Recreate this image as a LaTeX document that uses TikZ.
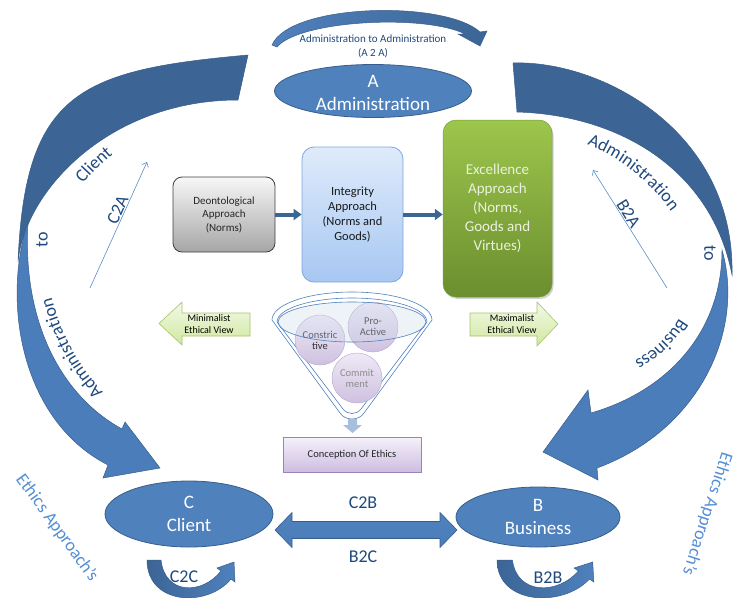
\documentclass[tikz,border=0pt]{standalone}
\usepackage{fontspec}
\setmainfont{Carlito}
\usetikzlibrary{shapes.geometric,arrows.meta,calc,decorations.text,shadows}
\definecolor{blueA}{HTML}{4F81BD}
\definecolor{blueD}{HTML}{3C6595}
\definecolor{blueL}{HTML}{4A7DBA}
\definecolor{blueE}{HTML}{385D8A}
\definecolor{navy}{HTML}{1F497D}
\definecolor{ethblue}{HTML}{558ED5}
\definecolor{thinblue}{HTML}{5B8CC8}
\definecolor{boxarrow}{HTML}{3B6595}
\definecolor{excltext}{HTML}{EBF1DE}
\definecolor{excltop}{HTML}{9DC64C}
\definecolor{exclbot}{HTML}{6B8E2F}
\definecolor{exclborder}{HTML}{7A9E3C}
\definecolor{integtop}{HTML}{DFEBFB}
\definecolor{integbot}{HTML}{A7C7F2}
\definecolor{integborder}{HTML}{7EA6DA}
\definecolor{viewtop}{HTML}{F3F9E7}
\definecolor{viewbot}{HTML}{D0E8A0}
\definecolor{viewborder}{HTML}{A5C46A}
\definecolor{circtop}{HTML}{EFE9F6}
\definecolor{circbot}{HTML}{CEC1E0}
\definecolor{circborder}{HTML}{B6A6CE}
\definecolor{conctop}{HTML}{F6F1FB}
\definecolor{concbot}{HTML}{CDBDE1}
\definecolor{concborder}{HTML}{9A82BA}
\definecolor{smallarr}{HTML}{A7BFDE}
\newcommand\fs[2]{\fontsize{#1}{#2}\selectfont}
\newcommand\arcfont{\fontsize{18}{20}\selectfont}
\begin{document}
\begin{tikzpicture}[x=1pt,y=-1pt,
  bigel/.style={ellipse, draw=blueE, line width=0.8pt, fill=blueA, inner sep=0pt},
  eltext/.style={text=white, font=\fs{19}{23}, align=center, inner sep=0pt},
  lbl/.style={text=navy, font=\fs{18}{20}, inner sep=1pt},
  bigarrowtop/.style={fill=blueD, draw=blueE, line width=0.5pt},
  bigarrowlow/.style={fill=blueL, draw=blueE, line width=0.5pt},
  arcword/.style={decorate, decoration={text along path, text align=center, text color=navy}},
  thinarrow/.style={draw=thinblue, line width=0.6pt, -{Straight Barb[length=4pt,width=7pt]}},
  viewarrow/.style={draw=viewborder, line width=0.6pt, top color=viewtop, bottom color=viewbot},
  viewtext/.style={font=\fs{10}{12.5}, align=center, text=black, inner sep=0pt},
  purplecirc/.style={circle, minimum size=50pt, inner sep=0pt, draw=circborder, top color=circtop, bottom color=circbot, align=center, font=\fs{10.5}{11}},
  funnelline/.style={draw=blueA, line width=0.6pt},
  boxlink/.style={draw=boxarrow, line width=4pt, -{Triangle[length=8pt,width=11pt]}},
  smallcurve/.style={left color=blueD, right color=blueA, draw=blueE, line width=0.5pt}
]
\useasboundingbox (0,0) rectangle (735,597);

% ---------- big curved arrows ----------
\path[bigarrowtop] (248,55) .. controls (80,70) and (25,92) .. (18,262)
   .. controls (25,190) and (110,100) .. (238,100) -- cycle;
\path[bigarrowlow] (28,222) .. controls (2,300) and (20,420) .. (108,465)
   -- (103,478) -- (160,468) -- (125,422) -- (122,429)
   .. controls (60,395) and (22,320) .. (28,222) -- cycle;

\path[bigarrowtop] (513,63) .. controls (600,60) and (735,130) .. (732,275)
   .. controls (712,170) and (620,115) .. (517,112) -- cycle;
\path[bigarrowlow] (722,250) .. controls (745,330) and (700,430) .. (597,468)
   -- (598,480) -- (543,452) -- (588,390) -- (591,413)
   .. controls (670,390) and (722,330) .. (722,250) -- cycle;

% words on the big arrows
\path[arcword, decoration={text={|\arcfont|Client}}] (66,207) .. controls (81,182) and (106,157) .. (136,137);
\node[rotate=90, text=navy, font=\arcfont, inner sep=0pt] (lto) at (42,240) {to};
\path[arcword, decoration={text={|\arcfont|Administration}}] (131,417) .. controls (86,384) and (51,329) .. (46,261);

\path[arcword, decoration={text={|\arcfont|Administration}}] (556,137) .. controls (606,143) and (660,183) .. (688,239);
\node[rotate=-90, text=navy, font=\arcfont, inner sep=0pt] (rto) at (710,253) {to};
\path[arcword, decoration={text={|\arcfont|Business}}] (575,255) ++(25:122) arc[start angle=25, end angle=67, radius=122];

% ---------- top A2A arrow ----------
\path[left color=blueA, right color=blueD, draw=blueE, line width=0.5pt]
  (272,45) .. controls (290,3) and (445,0) .. (480,32) -- (487,31) -- (480,46) -- (458,34) -- (465,34)
  .. controls (425,14) and (300,20) .. (277,47) -- cycle;
\node[text=navy, font=\fs{11}{14}, align=center] (a2a) at (373,46) {Administration to Administration\\(A 2 A)};

% ---------- ellipses ----------
\node[bigel, minimum width=197pt, minimum height=53pt] (A) at (373,91) {};
\node[eltext] (Atxt) at (373,93) {A\\Administration};
\node[bigel, minimum width=168pt, minimum height=66pt] (C) at (189,514) {};
\node[eltext] (Ctxt) at (189,513.5) {C\\Client};
\node[bigel, minimum width=164pt, minimum height=60pt] (B) at (538,517) {};
\node[eltext] (Btxt) at (538,516.5) {B\\Business};

% ---------- double arrow C <-> B ----------
\coordinate (cbL) at (275,530);
\coordinate (cbR) at (457,530);
\path[top color=blueA, bottom color=blueL, draw=blueE, line width=0.6pt]
  (cbL) -- ++(17,-17.5) -- ++(0,9) -- ($(cbR)+(-17,-8.5)$) -- ++(0,-9) -- (cbR)
  -- ++(-17,17.5) -- ++(0,-9) -- ($(cbL)+(17,8.5)$) -- ++(0,9) -- cycle;
\node[lbl] (c2b) at (363,503) {C2B};
\node[lbl] (b2c) at (363,557) {B2C};

% ---------- C2C and B2B ----------
\begin{scope}[shift={(147,560)}]
\path[smallcurve] (0,0) .. controls (0,45) and (60,48) .. (84,19) -- (88,22) -- (87,2) -- (70,8) -- (74,11)
  .. controls (55,35) and (18,35) .. (14,0) -- cycle;
\end{scope}
\begin{scope}[shift={(497,560)}, xscale=1.1]
\path[smallcurve] (0,0) .. controls (0,45) and (60,48) .. (84,19) -- (88,22) -- (87,2) -- (70,8) -- (74,11)
  .. controls (55,35) and (18,35) .. (14,0) -- cycle;
\end{scope}
\node[lbl] (c2c) at (184,577) {C2C};
\node[lbl] (b2b) at (548,578) {B2B};

% ---------- thin arrows C2A, B2A ----------
\coordinate (c2aS) at (90,288);
\coordinate (c2aE) at (147,162);
\draw[thinarrow] (c2aS) -- node[pos=0.6, sloped, above, lbl] (c2atxt) {C2A} (c2aE);
\coordinate (b2aS) at (667,288);
\coordinate (b2aE) at (593,170);
\draw[thinarrow] (b2aS) -- node[pos=0.6, sloped, above, lbl] (b2atxt) {B2A} (b2aE);

% ---------- approach boxes ----------
\node[draw=black!75, line width=0.8pt, rounded corners=9pt, top color=black!3, bottom color=black!35,
  minimum width=102pt, minimum height=75pt, align=center, font=\fs{11}{13.5}, text=black!85] (deon) at (224,214.5)
  {Deontological\\Approach\\(Norms)};
\node[draw=integborder, line width=0.8pt, rounded corners=12pt, top color=integtop, bottom color=integbot,
  minimum width=101pt, minimum height=135pt, align=center, font=\fs{12.5}{15}, text=black!90] (integ) at (352.5,214.5)
  {Integrity\\Approach\\(Norms and\\Goods)};
\node[rounded corners=13pt, top color=excltop, bottom color=exclbot, draw=exclborder, line width=0.5pt,
  minimum width=109pt, minimum height=177pt, align=center, font=\fs{15}{19}, text=excltext,
  drop shadow={opacity=0.35, shadow xshift=1.5pt, shadow yshift=-2pt}] (excl) at (497.5,208.5)
  {Excellence\\Approach\\(Norms,\\Goods and\\Virtues)};
\draw[boxlink] (deon.east) -- (integ.west);
\draw[boxlink] (integ.east) -- (integ.east -| excl.west);

% ---------- ethical view arrows ----------
\path[viewarrow] (159,323.5) -- (182,302) -- (182,313) -- (250,313) -- (250,336) -- (182,336) -- (182,345) -- cycle;
\node[viewtext] (minv) at (209,324) {Minimalist\\Ethical View};
\path[viewarrow] (470,313) -- (537,313) -- (537,302) -- (558,324) -- (537,346) -- (537,336) -- (470,336) -- cycle;
\node[viewtext] (maxv) at (512,324) {Maximalist\\Ethical View};

% ---------- funnel ----------
\path[funnelline, fill=white] (272,320) -- (340,413) .. controls (345,421) and (359,421) .. (364,413) -- (432,320)
  arc[start angle=0, end angle=-180, x radius=80, y radius=28] -- cycle;
\path[funnelline] (277,322) -- (343,409) .. controls (348,415) and (356,415) .. (361,409) -- (427,322)
  arc[start angle=0, end angle=-180, x radius=75, y radius=24] -- cycle;
\node[purplecirc, text=black!80] (cons) at (320,340) {Constric\\tive};
\node[purplecirc, text=black!80] (pro) at (373,327) {Pro-\\Active};
\node[purplecirc, text=black!45] (comm) at (357,378) {Commit\\ment};
\path[draw=blueA, line width=0.6pt, fill=blueA!30, fill opacity=0.3] (352,322) ellipse [x radius=74, y radius=20];
\path[fill=smallarr] (348,419) -- (357,419) -- (357,425) -- (362,425) -- (352.5,433) -- (343,425) -- (348,425) -- cycle;
\node[draw=concborder, line width=0.7pt, top color=conctop, bottom color=concbot, minimum width=138pt,
  minimum height=35pt, font=\fs{10.5}{12}, text=black!85] (conc) at (352,454.5) {Conception Of Ethics};

% ---------- Ethics Approach's ----------
\node[rotate=-54, text=ethblue, font=\fs{18}{20}] (eth1) at (57,528) {Ethics Approach's};
\node[rotate=-108, text=ethblue, font=\fs{18}{20}] (eth2) at (707,514) {Ethics Approach's};
\end{tikzpicture}
\end{document}
